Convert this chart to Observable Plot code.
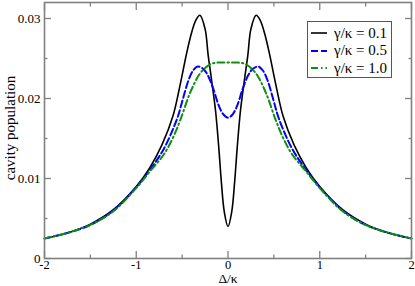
<!DOCTYPE html>
<html><head><meta charset="utf-8">
<script src="https://cdn.jsdelivr.net/npm/d3@7"></script>
<script src="https://cdn.jsdelivr.net/npm/@observablehq/plot@0.6"></script>
<style>
body{margin:0;background:#fff}
#c{position:relative;width:415px;height:286px;font-family:"Liberation Serif",serif}
#c svg, #c svg text{font-family:"Liberation Serif",serif !important}
#ylab{position:absolute;left:10px;top:128px;transform:translate(-50%,-50%) rotate(-90deg);font-size:15px;line-height:1;white-space:nowrap}
#xlab{position:absolute;left:228px;top:279.3px;transform:translate(-50%,-50%);font-size:13.5px;line-height:1;white-space:nowrap}
#leg{position:absolute;left:307px;top:21px;width:85px;height:57px;border:1px solid #555;background:#fff;box-sizing:border-box}
.row{position:absolute;left:3px;height:16px;display:flex;align-items:center;font-size:15px;white-space:nowrap}
.row svg{margin-right:7px}
</style>
</head><body><div id="c"></div>
<script>
// gamma/kappa = 0.1 (black, solid)
const blackX = [-2, -1.75, -1.5, -1.25, -1, -0.85, -0.72, -0.6, -0.52, -0.45, -0.4, -0.35, -0.306, -0.25, -0.216, -0.18, -0.136, -0.1, -0.074, -0.04, 0,
                0.04, 0.074, 0.1, 0.136, 0.18, 0.216, 0.25, 0.306, 0.35, 0.4, 0.45, 0.52, 0.6, 0.72, 0.85, 1, 1.25, 1.5, 1.75, 2];
const blackY = [0.0025, 0.0032, 0.0043, 0.0061, 0.0090, 0.0114, 0.0142, 0.0178, 0.0218, 0.0257, 0.0281, 0.0298, 0.0304, 0.0287, 0.0254, 0.0224, 0.0185, 0.0138, 0.0098, 0.0058, 0.0040,
                0.0058, 0.0098, 0.0138, 0.0185, 0.0224, 0.0254, 0.0287, 0.0304, 0.0298, 0.0281, 0.0257, 0.0218, 0.0178, 0.0142, 0.0114, 0.0090, 0.0061, 0.0043, 0.0032, 0.0025];
// gamma/kappa = 0.5 (blue, dashed)
const blueX = [-2, -1.75, -1.5, -1.25, -1, -0.85, -0.7, -0.554, -0.5, -0.43, -0.38, -0.33, -0.27, -0.22, -0.16, -0.1, -0.05, 0,
               0.05, 0.1, 0.16, 0.22, 0.27, 0.33, 0.38, 0.43, 0.5, 0.554, 0.7, 0.85, 1, 1.25, 1.5, 1.75, 2];
const blueY = [0.0025, 0.0032, 0.0042, 0.0060, 0.0089, 0.0111, 0.0137, 0.0175, 0.0196, 0.0223, 0.0235, 0.0240, 0.0237, 0.0229, 0.0212, 0.0191, 0.0180, 0.0176,
               0.0180, 0.0191, 0.0212, 0.0229, 0.0237, 0.0240, 0.0235, 0.0223, 0.0196, 0.0175, 0.0137, 0.0111, 0.0089, 0.0060, 0.0042, 0.0032, 0.0025];
// gamma/kappa = 1.0 (green, dash-dot)
const greenX = [-2, -1.75, -1.5, -1.25, -1, -0.85, -0.7, -0.6, -0.517, -0.41, -0.3, -0.19, -0.1, 0,
                0.1, 0.19, 0.3, 0.41, 0.517, 0.6, 0.7, 0.85, 1, 1.25, 1.5, 1.75, 2];
const greenY = [0.0025, 0.0032, 0.0042, 0.0059, 0.0088, 0.0109, 0.0130, 0.0151, 0.0174, 0.0208, 0.0232, 0.0243, 0.0245, 0.0245,
                0.0245, 0.0243, 0.0232, 0.0208, 0.0174, 0.0151, 0.0130, 0.0109, 0.0088, 0.0059, 0.0042, 0.0032, 0.0025];

const seriesNames = ["γ/κ = 0.1", "γ/κ = 0.5", "γ/κ = 1.0"];
const seriesColors = ["#000000", "#0000ff", "#0f8f0f"];
const seriesDash = [null, "7,3", "7,3,1.5,3"];
const seriesWidth = [1.6, 2, 2];

const xMajor = [-2, -1, 0, 1, 2];
const xMinor = [-1.5, -0.5, 0.5, 1.5];
const xLabels = ["-2", "-1", "0", "1", "2"];
const yMajor = [0, 0.01, 0.02, 0.03];
const yMinor = [0.005, 0.015, 0.025];
const yLabels = ["0", "0.01", "0.02", "0.03"];

const series = [[blackX, blackY], [blueX, blueY], [greenX, greenY]];
const data = series.flatMap(([xs, ys], i) => xs.map((x, j) => ({x, y: ys[j], s: i})));

const frameColor = "#808080";
const tickAxis = (fn, ticks, anchor, size) =>
  fn(ticks, {anchor, tickSize: -size, tickFormat: () => "", stroke: frameColor, strokeWidth: 1.3, label: null});

const chart = Plot.plot({
  width: 415, height: 286,
  marginLeft: 44, marginRight: 4, marginTop: 2, marginBottom: 28,
  style: {fontFamily: "'Liberation Serif', serif", fontSize: "13px", color: "#000", background: "#fff"},
  x: {domain: [-2, 2]},
  y: {domain: [0, 0.032]},
  marks: [
    ...[0, 1, 2].map(i => Plot.line(data.filter(d => d.s === i), {
      x: "x", y: "y", stroke: seriesColors[i], strokeWidth: seriesWidth[i],
      strokeDasharray: seriesDash[i], curve: "catmull-rom"
    })),
    tickAxis(Plot.axisX, xMajor, "bottom", 7),
    tickAxis(Plot.axisX, xMinor, "bottom", 3.5),
    tickAxis(Plot.axisX, xMajor, "top", 7),
    tickAxis(Plot.axisX, xMinor, "top", 3.5),
    tickAxis(Plot.axisY, yMajor, "left", 7),
    tickAxis(Plot.axisY, yMinor, "left", 3.5),
    tickAxis(Plot.axisY, yMajor, "right", 7),
    tickAxis(Plot.axisY, yMinor, "right", 3.5),
    Plot.axisX(xMajor, {anchor: "bottom", tickSize: 0, tickPadding: 2, tickFormat: (d, i) => xLabels[i], label: null, fontSize: 12.5}),
    Plot.axisY(yMajor, {anchor: "left", tickSize: 0, tickPadding: 4, tickFormat: (d, i) => yLabels[i], label: null, fontSize: 13}),
    Plot.frame({stroke: frameColor, strokeWidth: 1.6})
  ]
});

const c = document.getElementById("c");
c.appendChild(chart);

const ylab = document.createElement("div"); ylab.id = "ylab"; ylab.textContent = "cavity population"; c.appendChild(ylab);
const xlab = document.createElement("div"); xlab.id = "xlab"; xlab.textContent = "Δ/κ"; c.appendChild(xlab);

const leg = document.createElement("div"); leg.id = "leg";
seriesNames.forEach((name, i) => {
  const row = document.createElement("div"); row.className = "row"; row.style.top = (3 + i * 17.5) + "px";
  row.innerHTML = `<svg width="16" height="10"><line x1="0" y1="5" x2="16" y2="5" stroke="${seriesColors[i]}" stroke-width="${seriesWidth[i]}" ${seriesDash[i] ? `stroke-dasharray="${seriesDash[i]}"` : ""}/></svg><span>${name}</span>`;
  leg.appendChild(row);
});
c.appendChild(leg);
</script>
</body></html>
